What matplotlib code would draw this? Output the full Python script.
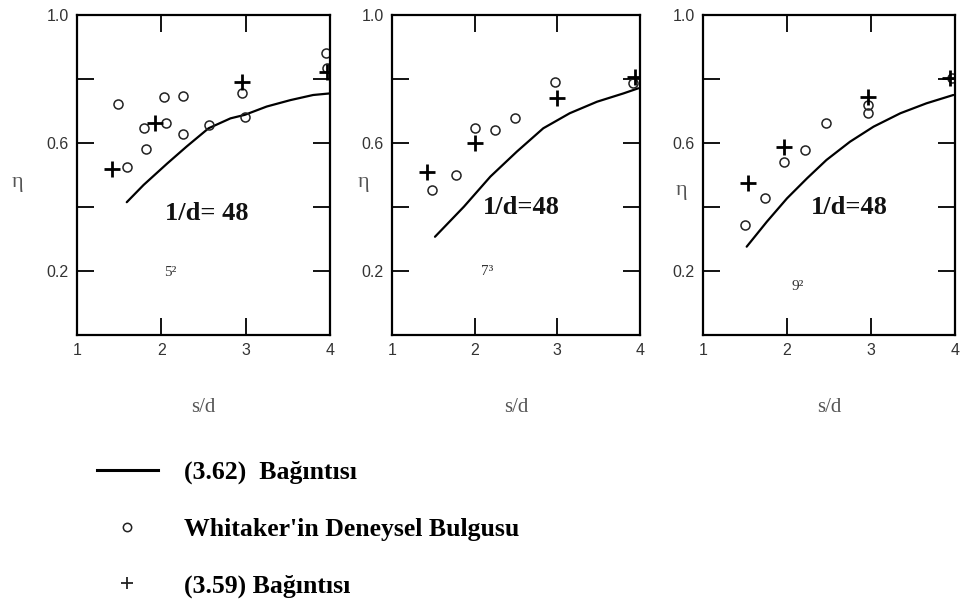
import matplotlib
matplotlib.use('Agg')
import matplotlib.pyplot as plt
from matplotlib.lines import Line2D

# ---------------- data ----------------
x_ticks = [1, 2, 3, 4]
x_ticklabels = ['1', '2', '3', '4']
y_ticks = [0.2, 0.4, 0.6, 0.8, 1.0]
y_ticklabels = ['0.2', '', '0.6', '', '1.0']

panel_notes = ['5²', '7³', '9²']
panel_titles = ['1/d= 48', '1/d=48', '1/d=48']

# Panel 1
p1_curve_x = [1.59, 1.79, 2.07, 2.30, 2.56, 2.82, 2.99, 3.25, 3.53, 3.80, 4.0]
p1_curve_y = [0.415, 0.469, 0.536, 0.589, 0.646, 0.677, 0.688, 0.714, 0.734, 0.750, 0.755]
p1_circ_x = [1.49, 1.59, 1.80, 1.82, 2.03, 2.05, 2.26, 2.26, 2.56, 2.99, 2.96, 3.95, 3.97]
p1_circ_y = [0.722, 0.526, 0.646, 0.580, 0.745, 0.661, 0.748, 0.627, 0.656, 0.680, 0.757, 0.880, 0.835]
p1_plus_x = [1.42, 1.92, 2.96, 3.97]
p1_plus_y = [0.519, 0.661, 0.792, 0.823]

# Panel 2
p2_curve_x = [1.52, 1.87, 2.19, 2.51, 2.83, 3.15, 3.48, 3.80, 3.98]
p2_curve_y = [0.307, 0.401, 0.495, 0.573, 0.646, 0.693, 0.729, 0.755, 0.771]
p2_circ_x = [1.48, 1.78, 2.01, 2.25, 2.49, 2.97, 3.92]
p2_circ_y = [0.453, 0.500, 0.646, 0.641, 0.677, 0.792, 0.786]
p2_plus_x = [1.42, 2.00, 2.99, 3.94]
p2_plus_y = [0.510, 0.599, 0.740, 0.807]

# Panel 3
p3_curve_x = [1.52, 1.76, 2.00, 2.24, 2.47, 2.75, 3.03, 3.35, 3.66, 3.98]
p3_curve_y = [0.276, 0.354, 0.427, 0.490, 0.547, 0.604, 0.651, 0.693, 0.724, 0.750]
p3_circ_x = [1.50, 1.74, 1.96, 2.22, 2.47, 2.97, 2.97, 3.96]
p3_circ_y = [0.344, 0.427, 0.542, 0.578, 0.664, 0.693, 0.720, 0.802]
p3_plus_x = [1.53, 1.97, 2.96, 3.94]
p3_plus_y = [0.474, 0.589, 0.745, 0.802]

legend_labels = ['(3.62)  Bağıntısı', "Whitaker'in Deneysel Bulgusu", '(3.59) Bağıntısı']

panels = [
    (p1_curve_x, p1_curve_y, p1_circ_x, p1_circ_y, p1_plus_x, p1_plus_y),
    (p2_curve_x, p2_curve_y, p2_circ_x, p2_circ_y, p2_plus_x, p2_plus_y),
    (p3_curve_x, p3_curve_y, p3_circ_x, p3_circ_y, p3_plus_x, p3_plus_y),
]

# ---------------- layout ----------------
W, H = 964, 608
fig = plt.figure(figsize=(W / 100, H / 100), dpi=100)

ax_px = [(77, 330), (392, 640), (703, 955)]
top_px, bot_px = 15, 335
title_pos = [(2.54, 0.38), (2.56, 0.397), (2.74, 0.397)]
note_pos = [(2.10, 0.194), (2.15, 0.197), (2.13, 0.15)]
eta_px = [(17, 183), (363, 182), (682, 190)]

serif = 'Liberation Serif'
tick_color = '#333333'
label_color = '#555555'

for i, (ax_lr, data) in enumerate(zip(ax_px, panels)):
    l, r = ax_lr
    ax = fig.add_axes([l / W, 1 - bot_px / H, (r - l) / W, (bot_px - top_px) / H])
    cx, cy, ox, oy, px, py = data
    ax.plot(cx, cy, color='black', lw=1.6, solid_capstyle='round')
    ax.plot(ox, oy, linestyle='none', marker='o', ms=6.5, mfc='none', mec='#222222', mew=1.1)
    ax.plot(px, py, linestyle='none', marker='+', ms=11, mec='black', mew=2.0)
    ax.set_xlim(1, 4)
    ax.set_ylim(0, 1.0)
    ax.set_xticks(x_ticks)
    ax.set_xticklabels(x_ticklabels)
    ax.set_yticks(y_ticks)
    ax.set_yticklabels(y_ticklabels)
    ax.tick_params(direction='in', length=12, width=1.3, top=True, right=True,
                   labelsize=11.5, labelcolor=tick_color, pad=6)
    for lab in ax.get_xticklabels() + ax.get_yticklabels():
        lab.set_fontfamily('Liberation Sans')
    for sp in ax.spines.values():
        sp.set_linewidth(1.6)
    tx, ty = title_pos[i]
    ax.text(tx, ty, panel_titles[i], fontfamily=serif, fontweight='bold',
            fontsize=19, ha='center', va='center', color='#111111')
    nx, ny = note_pos[i]
    ax.text(nx, ny, panel_notes[i], fontfamily=serif, fontsize=11,
            ha='center', va='center', color='#333333')
    ex, ey = eta_px[i]
    fig.text(ex / W, 1 - ey / H, 'η', fontfamily=serif, fontsize=16,
             ha='center', va='center', color=label_color)
    fig.text(((l + r) / 2) / W, 1 - 408 / H, 's/d', fontfamily=serif, fontsize=15,
             ha='center', va='center', color=label_color)

handles = [
    Line2D([], [], color='black', lw=2.2),
    Line2D([], [], linestyle='none', marker='o', ms=6, mfc='none', mec='#222222', mew=1.1),
    Line2D([], [], linestyle='none', marker='+', ms=9, mec='#222222', mew=1.3),
]
fig.legend(handles, legend_labels, loc='upper left', bbox_to_anchor=(97 / W, 1 - 461 / H),
           frameon=False, handlelength=2.37, handletextpad=1.0, labelspacing=1.3,
           prop={'family': serif, 'weight': 'bold', 'size': 18.5}, borderaxespad=0,
           borderpad=0)

fig.savefig('out.png', dpi=100)
